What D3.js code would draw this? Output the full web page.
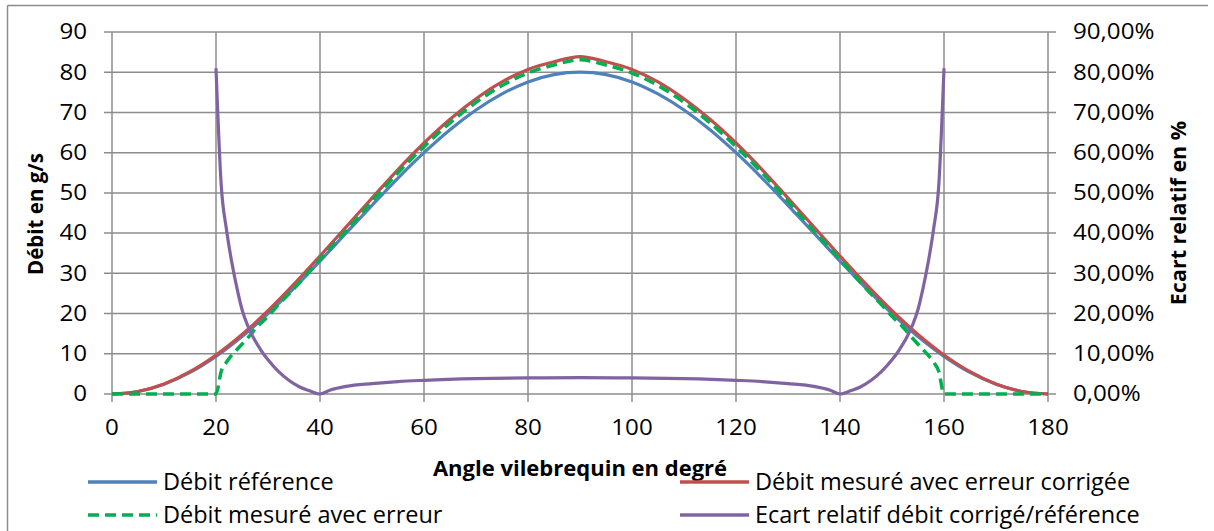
<!DOCTYPE html>
<html>
<head>
<meta charset="utf-8">
<script src="https://cdn.jsdelivr.net/npm/d3@7"></script>
<style>
  html, body { margin: 0; padding: 0; background: #fff; }
  svg { display: block; }
  text { font-family: "Open Sans", Lato, sans-serif; fill: #000; }
</style>
</head>
<body>
<svg id="chart" width="1214" height="531"></svg>
<script>
// ---- Data ----
const angles = [0,5,10,15,20,25,30,35,40,45,50,55,60,65,70,75,80,85,90,95,100,105,110,115,120,125,130,135,140,145,150,155,160,165,170,175,180];
const debitReference = [0,0.61,2.41,5.36,9.36,14.29,20,26.3,33.05,40,46.9,53.7,60,65.7,70.6,74.6,77.6,79.4,80,79.4,77.6,74.6,70.6,65.7,60,53.7,46.9,40,33.05,26.3,20,14.29,9.36,5.36,2.41,0.61,0];
const debitCorrige = [0,0.63,2.5,5.55,9.7,14.8,20.7,27.3,34.3,41.5,48.7,55.8,62.4,68.3,73.4,77.6,80.7,82.6,83.9,82.6,80.7,77.6,73.4,68.3,62.4,55.8,48.7,41.5,34.3,27.3,20.7,14.8,9.7,5.55,2.5,0.63,0];

const anglesErreur = [0,20,21,22,23,24,26,28,30,32,35,40,45,50,55,60,65,70,75,80,85,90,95,100,105,110,115,120,125,130,135,140,145,148,150,152,154,156,157,158,159,160,180];
const debitErreur = [0,0,5.6,7.9,9.6,11.0,13.8,16.8,19.3,22.2,26.2,33.5,40.5,47.9,55.0,61.5,67.4,72.5,76.7,79.8,81.8,83.1,81.8,79.8,76.7,72.5,67.4,61.5,55.0,47.9,40.5,33.5,26.2,22.2,19.3,16.8,13.8,11.0,9.6,7.9,5.6,0,0];

const anglesEcart = [20,21,22,23,24,25,26,27,28,29,30,32,34,36,38,40,42,45,50,55,60,70,80,90,100,110,120,125,130,135,138,140,142,144,146,148,150,151,152,153,154,155,156,157,158,159,160];
const ecartRelatif = [81,52,41,33,26.5,21,17.3,14.5,12.2,10.2,8.5,5.6,3.4,1.8,0.8,0,1.0,1.9,2.6,3.1,3.4,3.8,4.0,4.05,4.0,3.8,3.4,3.1,2.6,1.9,1.0,0,0.8,1.8,3.4,5.6,8.5,10.2,12.2,14.5,17.3,21,26.5,33,41,52,81];

const xTicks = [0,20,40,60,80,100,120,140,160,180];
const yTicks = [0,10,20,30,40,50,60,70,80,90];
const y2Ticks = ["0,00%","10,00%","20,00%","30,00%","40,00%","50,00%","60,00%","70,00%","80,00%","90,00%"];

const legendLabels = ["Débit référence","Débit mesuré avec erreur corrigée","Débit mesuré avec erreur","Ecart relatif débit corrigé/référence"];
const colors = ["#4F81BD","#C0504D","#00B050","#8064A2"];

// ---- Layout ----
const svg = d3.select("#chart");
const x = d3.scaleLinear().domain([0,180]).range([112,1048]);
const y = d3.scaleLinear().domain([0,90]).range([394,32]);
const y2 = d3.scaleLinear().domain([0,90]).range([394,32]);
const gridColor = "#8c8c8c";

// outer frame (top and left visible)
svg.append("line").attr("x1",7.5).attr("x2",1208).attr("y1",5.5).attr("y2",5.5).attr("stroke","#8c8c8c").attr("stroke-width",1.5);
svg.append("line").attr("x1",7.5).attr("x2",7.5).attr("y1",5.5).attr("y2",531).attr("stroke","#8c8c8c").attr("stroke-width",1.5);

// horizontal gridlines with outward ticks
svg.append("g").selectAll("line").data(yTicks).join("line")
  .attr("x1",104).attr("x2",1056)
  .attr("y1",d=>y(d)).attr("y2",d=>y(d))
  .attr("stroke",gridColor).attr("stroke-width",1.5);
// vertical gridlines with ticks below
svg.append("g").selectAll("line").data(xTicks).join("line")
  .attr("x1",d=>x(d)).attr("x2",d=>x(d))
  .attr("y1",y(90)).attr("y2",402)
  .attr("stroke",gridColor).attr("stroke-width",1.5);

// tick labels (slightly widened glyphs)
const fs = 21, sx = 1.15;
svg.append("g").selectAll("text").data(yTicks).join("text")
  .attr("transform",d=>`translate(87,${y(d)}) scale(${sx},1)`).attr("dy","0.35em")
  .attr("text-anchor","end").style("font-size",fs+"px").text(d=>d);
svg.append("g").selectAll("text").data(y2Ticks).join("text")
  .attr("transform",(d,i)=>`translate(1073,${y2(yTicks[i])}) scale(${sx},1)`).attr("dy","0.35em")
  .attr("text-anchor","start").style("font-size",fs+"px").text(d=>d);
svg.append("g").selectAll("text").data(xTicks).join("text")
  .attr("transform",d=>`translate(${x(d)},428) scale(${sx},1)`).attr("dy","0.35em")
  .attr("text-anchor","middle").style("font-size",fs+"px").text(d=>d);

// axis titles
svg.append("text").attr("x",580).attr("y",468).attr("dy","0.35em")
  .attr("text-anchor","middle").style("font-size","22px").style("font-weight","bold")
  .text("Angle vilebrequin en degré");
svg.append("text").attr("transform","translate(36,214) rotate(-90)").attr("dy","0.35em")
  .attr("text-anchor","middle").style("font-size","20.5px").style("font-weight","bold")
  .text("Débit en g/s");
svg.append("text").attr("transform","translate(1178,213) rotate(-90)").attr("dy","0.35em")
  .attr("text-anchor","middle").style("font-size","21.5px").style("font-weight","bold")
  .text("Ecart relatif en %");

// lines
const line = d3.line().curve(d3.curveMonotoneX);
const series = [
  {xs: angles, ys: debitReference, sc: y, dash: null},
  {xs: angles, ys: debitCorrige, sc: y, dash: null},
  {xs: anglesErreur, ys: debitErreur, sc: y, dash: "11,6"},
  {xs: anglesEcart, ys: ecartRelatif, sc: y2, dash: null}
];
series.forEach((s,i)=>{
  svg.append("path")
    .attr("d", line(s.xs.map((a,j)=>[x(a), s.sc(s.ys[j])])))
    .attr("fill","none").attr("stroke",colors[i])
    .attr("stroke-width", i===2 ? 3.5 : 3.2)
    .attr("stroke-dasharray", s.dash)
    .attr("stroke-linejoin","round");
});

// legend
const legendPos = [[88,482],[680,482],[88,515],[680,515]];
legendLabels.forEach((lab,i)=>{
  const [lx,ly] = legendPos[i];
  svg.append("line").attr("x1",lx).attr("x2",lx+69).attr("y1",ly).attr("y2",ly)
    .attr("stroke",colors[i]).attr("stroke-width", 3.5)
    .attr("stroke-dasharray", i===2 ? "11,6" : null);
  svg.append("text").attr("x",lx+75).attr("y",ly).attr("dy","0.35em")
    .style("font-size","23.5px").text(lab);
});
</script>
</body>
</html>
